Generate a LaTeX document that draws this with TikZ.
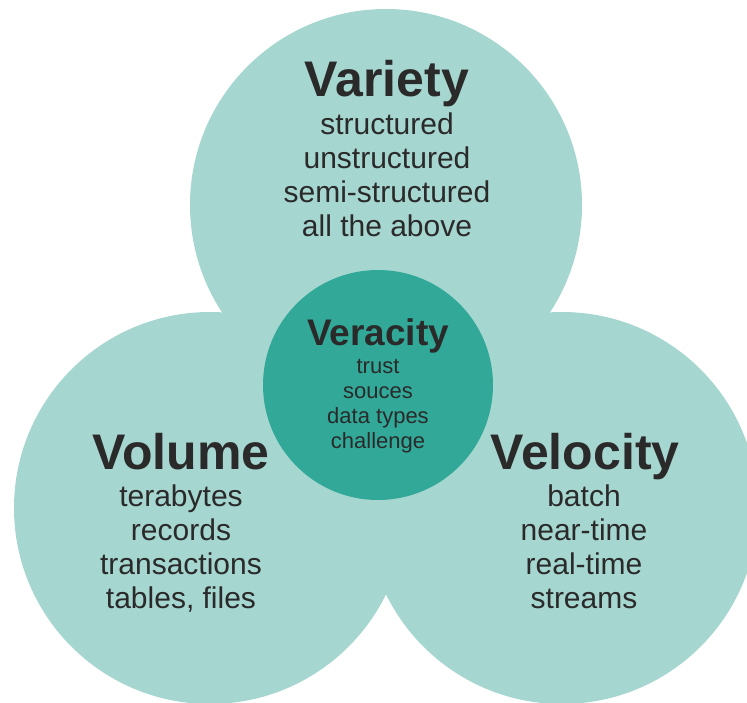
\documentclass[tikz,border=0pt]{standalone}
\usepackage{fontspec}
\setmainfont{Liberation Sans}
\definecolor{vlight}{HTML}{A6D6D0}
\definecolor{vdark}{HTML}{31A898}
\definecolor{vtext}{HTML}{2A2A2A}
\tikzset{
  vhead/.style={font=\fontsize{50}{50}\selectfont\bfseries, text=vtext, inner sep=0pt, anchor=base},
  vsubhead/.style={font=\fontsize{37}{37}\selectfont\bfseries, text=vtext, inner sep=0pt, anchor=base},
  vitems/.style={font=\fontsize{30}{33.8}\selectfont, text=vtext, align=center, inner sep=0pt, anchor=base},
  vsmall/.style={font=\fontsize{22}{24.7}\selectfont, text=vtext, align=center, inner sep=0pt, anchor=base}
}
\begin{document}
\begin{tikzpicture}[x=1pt,y=-1pt]
\useasboundingbox (0,0) rectangle (747,702);
\clip (0,0) rectangle (747,702);
% the three Vs
\fill[vlight] (386,205) circle [radius=196pt];
\fill[vlight] (210,508) circle [radius=196pt];
\fill[vlight] (562,508) circle [radius=196pt];
% centre
\fill[vdark] (378,385) circle [radius=115pt];
% base = last line of each list
\node[vhead] (variety) at (387,96) {Variety};
\node[vitems] (varietylist) at (387,236) {structured\\unstructured\\semi-structured\\all the above};
\node[vhead] (volume) at (181,469) {Volume};
\node[vitems] (volumelist) at (181,608) {terabytes\\records\\transactions\\tables, files};
\node[vhead] (velocity) at (585,469) {Velocity};
\node[vitems] (velocitylist) at (584,608) {batch\\near-time\\real-time\\streams};
\node[vsubhead] (veracity) at (378,345) {Veracity};
\node[vsmall] (veracitylist) at (378,448) {trust\\souces\\data types\\challenge};
\end{tikzpicture}
\end{document}
